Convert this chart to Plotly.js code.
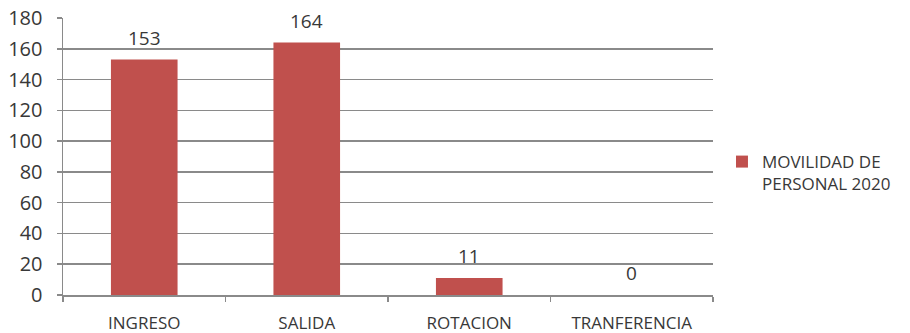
<!DOCTYPE html>
<html>
<head>
<meta charset="utf-8">
<script src="https://cdn.plot.ly/plotly-3.0.1.min.js"></script>
<style>
  html, body { margin: 0; padding: 0; background: #ffffff; }
  #chart { width: 910px; height: 333px; }
</style>
</head>
<body>
<div id="chart"></div>
<script>
// Movilidad de personal 2020
const categories = ['INGRESO', 'SALIDA', 'ROTACION', 'TRANFERENCIA'];
const values = [153, 164, 11, 0];
const seriesName = 'MOVILIDAD DE<br>PERSONAL 2020';
const yTicks = [0, 20, 40, 60, 80, 100, 120, 140, 160, 180];

const textColor = '#383838';
const gridColor = '#8a8a8a';
const fontFamily = '"Open Sans", sans-serif';

const trace = {
  type: 'bar',
  x: categories,
  y: values,
  name: seriesName,
  width: 0.41,
  marker: { color: '#c0504d', line: { width: 0 } },
  hoverinfo: 'x+y',
  showlegend: true
};

// value labels above each bar
const annotations = categories.map((c, i) => ({
  x: c,
  y: values[i],
  xref: 'x',
  yref: 'y',
  text: String(values[i]),
  showarrow: false,
  yanchor: 'bottom',
  yshift: 7,
  font: { family: fontFamily, size: 19, color: textColor }
}));

const layout = {
  width: 910,
  height: 333,
  margin: { l: 63, r: 197, t: 18, b: 38 },
  paper_bgcolor: '#ffffff',
  plot_bgcolor: '#ffffff',
  font: { family: fontFamily, size: 18, color: textColor },
  xaxis: {
    type: 'category',
    showline: true,
    linecolor: gridColor,
    linewidth: 1.5,
    ticks: 'outside',
    tickson: 'boundaries',
    ticklen: 5,
    tickwidth: 1.5,
    tickcolor: gridColor,
    showgrid: false,
    ticklabelstandoff: 12,
    tickfont: { family: fontFamily, size: 17, color: textColor }
  },
  yaxis: {
    range: [0, 180],
    tickvals: yTicks,
    showline: true,
    linecolor: gridColor,
    linewidth: 1.5,
    ticks: 'outside',
    ticklen: 5,
    tickwidth: 1.5,
    tickcolor: gridColor,
    showgrid: true,
    gridcolor: gridColor,
    gridwidth: 1.5,
    zeroline: false,
    ticklabelstandoff: 10,
    tickfont: { family: fontFamily, size: 20, color: textColor }
  },
  legend: {
    x: 1.0138,
    xanchor: 'left',
    y: 0.545,
    yanchor: 'top',
    valign: 'top',
    font: { family: fontFamily, size: 17, color: textColor },
    bgcolor: 'rgba(0,0,0,0)'
  },
  annotations: annotations,
  bargap: 0.59
};

Plotly.newPlot('chart', [trace], layout, { displayModeBar: false, staticPlot: true });
</script>
</body>
</html>
